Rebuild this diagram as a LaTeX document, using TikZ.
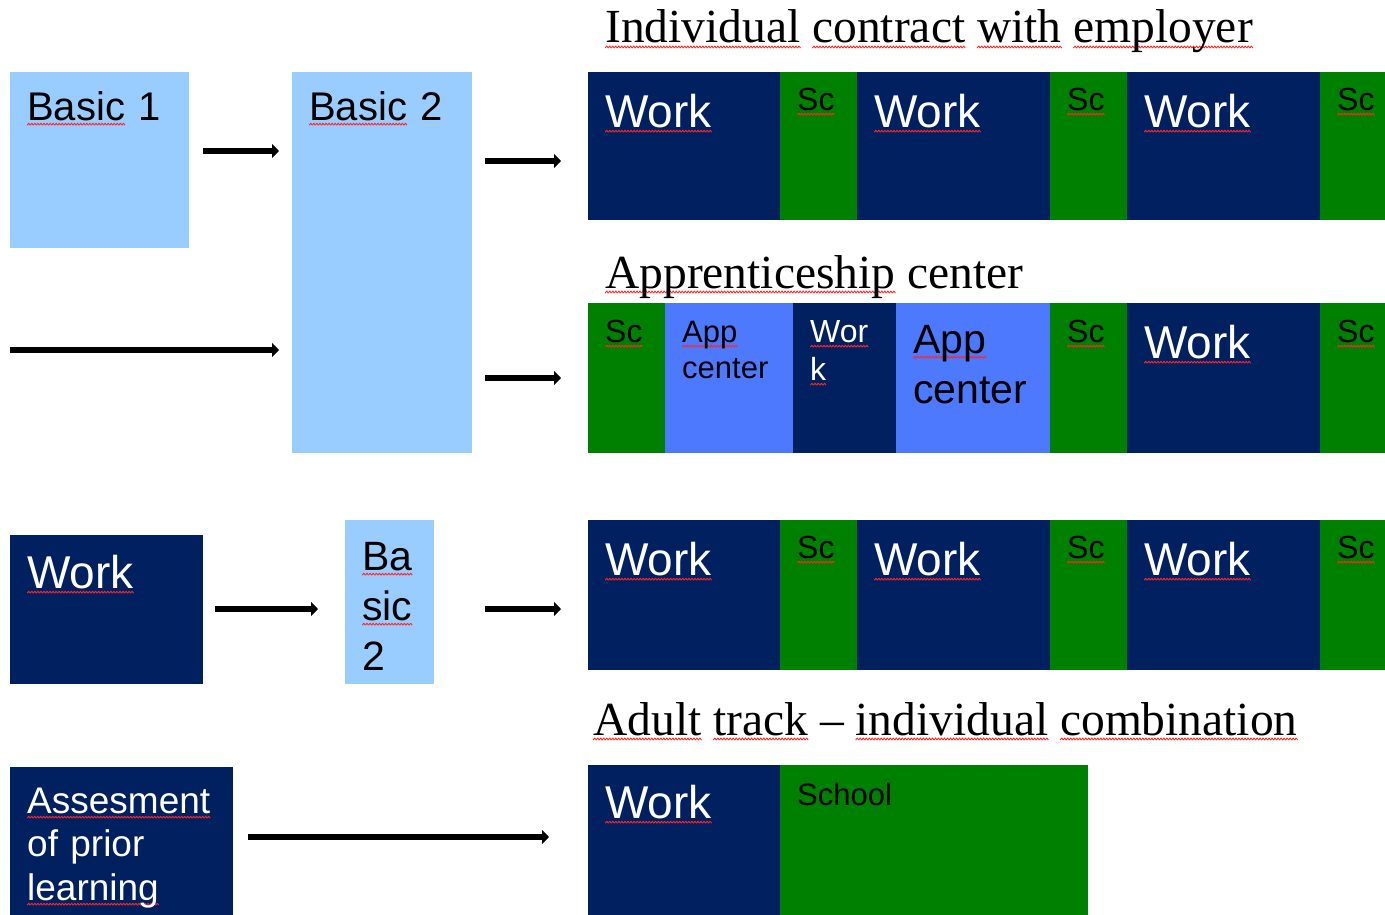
\documentclass[tikz,border=0pt]{standalone}
\usepackage{fontspec}
\setmainfont{Liberation Serif}
\setsansfont{Liberation Sans}
\usetikzlibrary{arrows.meta}

\definecolor{navy}{HTML}{002060}
\definecolor{grn}{HTML}{008000}
\definecolor{pale}{HTML}{99CCFF}
\definecolor{appblue}{HTML}{4D79FF}

% red spell-check squiggle under a word
\newsavebox\sqword
\newcommand\sq[1]{\leavevmode\sbox\sqword{#1}\rlap{\lower5pt\hbox to\wd\sqword{\xleaders\hbox{\tikz[x=1pt,y=1pt]{\useasboundingbox (0,0) rectangle (3,2);\draw[red!85,line width=0.9pt,line join=round] (0,0)--(1.5,2)--(3,0);}}\hfill}}\usebox\sqword}

\tikzset{
  blk/.style={anchor=north west, inner xsep=17pt, inner ysep=0pt, align=left, font=\sffamily},
  wk/.style={blk, fill=navy, text=white},
  scb/.style={blk, fill=grn, text=black},
  bas/.style={blk, fill=pale, text=black},
  app/.style={blk, fill=appblue, text=black},
  big/.style={font=\sffamily\fontsize{46}{55}\selectfont},
  small/.style={font=\sffamily\fontsize{32}{38}\selectfont},
  arr/.style={line width=6pt, -{Triangle[length=7pt,width=14pt]}},
  ttl/.style={anchor=base west, inner sep=0pt, font=\fontsize{47.5}{56}\selectfont},
}

\begin{document}
\begin{tikzpicture}[x=1pt,y=-1pt]
    \path[fill=white,use as bounding box] (0,0) rectangle (1385,915);

    % titles
    \node[ttl] (t1) at (605,43) {\sq{Individual} \sq{contract} \sq{with} \sq{employer}};
    \node[ttl] (t2) at (605,288) {\sq{Apprenticeship} center};
    \node[ttl] (t3) at (593,735) {\sq{Adult} \sq{track} -- \sq{individual} \sq{combination}};

    % left column
    \node[bas,font=\sffamily\fontsize{40}{48}\selectfont,text width=145pt,text height=48pt,text depth=128pt] (b1) at (10,72) {\sq{Basic} 1};
    \node[bas,font=\sffamily\fontsize{40}{48}\selectfont,text width=146pt,text height=48pt,text depth=333pt] (b2) at (292,72) {\sq{Basic} 2};
    \node[wk,big,text width=159pt,text height=53pt,text depth=96pt] (wl) at (10,535) {\sq{Work}};
    \node[bas,font=\sffamily\fontsize{41}{50}\selectfont,text width=55pt,text height=50pt,text depth=114pt] (bs) at (345,520) {\sq{Ba}\\\sq{sic}\\2};
    \node[wk,font=\sffamily\fontsize{37}{43.5}\selectfont,text width=189pt,text height=46pt,text depth=102pt] (as) at (10,767) {\sq{Assesment}\\of prior\\\sq{learning}};

    % row 1
    \node[wk,big,text width=158pt,text height=55pt,text depth=93pt] (r1a) at (588,72) {\sq{Work}};
    \node[scb,small,text width=43pt,text height=38pt,text depth=110pt] (r1b) at (780,72) {\sq{Sc}};
    \node[wk,big,text width=159pt,text height=55pt,text depth=93pt] (r1c) at (857,72) {\sq{Work}};
    \node[scb,small,text width=43pt,text height=38pt,text depth=110pt] (r1d) at (1050,72) {\sq{Sc}};
    \node[wk,big,text width=159pt,text height=55pt,text depth=93pt] (r1e) at (1127,72) {\sq{Work}};
    \node[scb,small,text width=43pt,text height=38pt,text depth=110pt] (r1f) at (1320,72) {\sq{Sc}};

    % row 2
    \node[scb,small,text width=43pt,text height=39pt,text depth=111pt] (r2a) at (588,303) {\sq{Sc}};
    \node[app,font=\sffamily\fontsize{31}{36}\selectfont,text width=94pt,text height=39pt,text depth=111pt] (r2b) at (665,303) {\sq{App}\\center};
    \node[wk,small,text width=69pt,text height=39pt,text depth=111pt] (r2c) at (793,303) {\sq{Wor}\\\sq{k}};
    \node[app,font=\sffamily\fontsize{41}{50}\selectfont,text width=120pt,text height=50pt,text depth=100pt] (r2d) at (896,303) {\sq{App}\\center};
    \node[scb,small,text width=43pt,text height=39pt,text depth=111pt] (r2e) at (1050,303) {\sq{Sc}};
    \node[wk,big,text width=159pt,text height=55pt,text depth=95pt] (r2f) at (1127,303) {\sq{Work}};
    \node[scb,small,text width=43pt,text height=39pt,text depth=111pt] (r2g) at (1320,303) {\sq{Sc}};

    % row 3
    \node[wk,big,text width=158pt,text height=55pt,text depth=95pt] (r3a) at (588,520) {\sq{Work}};
    \node[scb,small,text width=43pt,text height=38pt,text depth=112pt] (r3b) at (780,520) {\sq{Sc}};
    \node[wk,big,text width=159pt,text height=55pt,text depth=95pt] (r3c) at (857,520) {\sq{Work}};
    \node[scb,small,text width=43pt,text height=38pt,text depth=112pt] (r3d) at (1050,520) {\sq{Sc}};
    \node[wk,big,text width=159pt,text height=55pt,text depth=95pt] (r3e) at (1127,520) {\sq{Work}};
    \node[scb,small,text width=43pt,text height=38pt,text depth=112pt] (r3f) at (1320,520) {\sq{Sc}};

    % row 4
    \node[wk,big,text width=158pt,text height=53pt,text depth=97pt] (r4a) at (588,765) {\sq{Work}};
    \node[scb,font=\sffamily\fontsize{31}{36}\selectfont,text width=274pt,text height=40pt,text depth=110pt] (r4b) at (780,765) {School};

    % arrows
    \coordinate (in2) at (10,350);
    \draw[arr,shorten <=14pt,shorten >=13pt] (b1.east |- 0,151) -- (b2.west |- 0,151);
    \draw[arr,shorten >=13pt] (in2) -- (b2.west |- in2);
    \draw[arr,shorten <=13pt,shorten >=27pt] (b2.east |- 0,161) -- (r1a.west |- 0,161);
    \draw[arr,shorten <=13pt,shorten >=27pt] (b2.east |- 0,378) -- (r2a.west |- 0,378);
    \draw[arr,shorten <=12pt,shorten >=27pt] (wl.east |- 0,609) -- (bs.west |- 0,609);
    \draw[arr,shorten <=51pt,shorten >=27pt] (bs.east |- 0,609) -- (r3a.west |- 0,609);
    \draw[arr,shorten <=15pt,shorten >=39pt] (as.east |- 0,837) -- (r4a.west |- 0,837);
\end{tikzpicture}
\end{document}
